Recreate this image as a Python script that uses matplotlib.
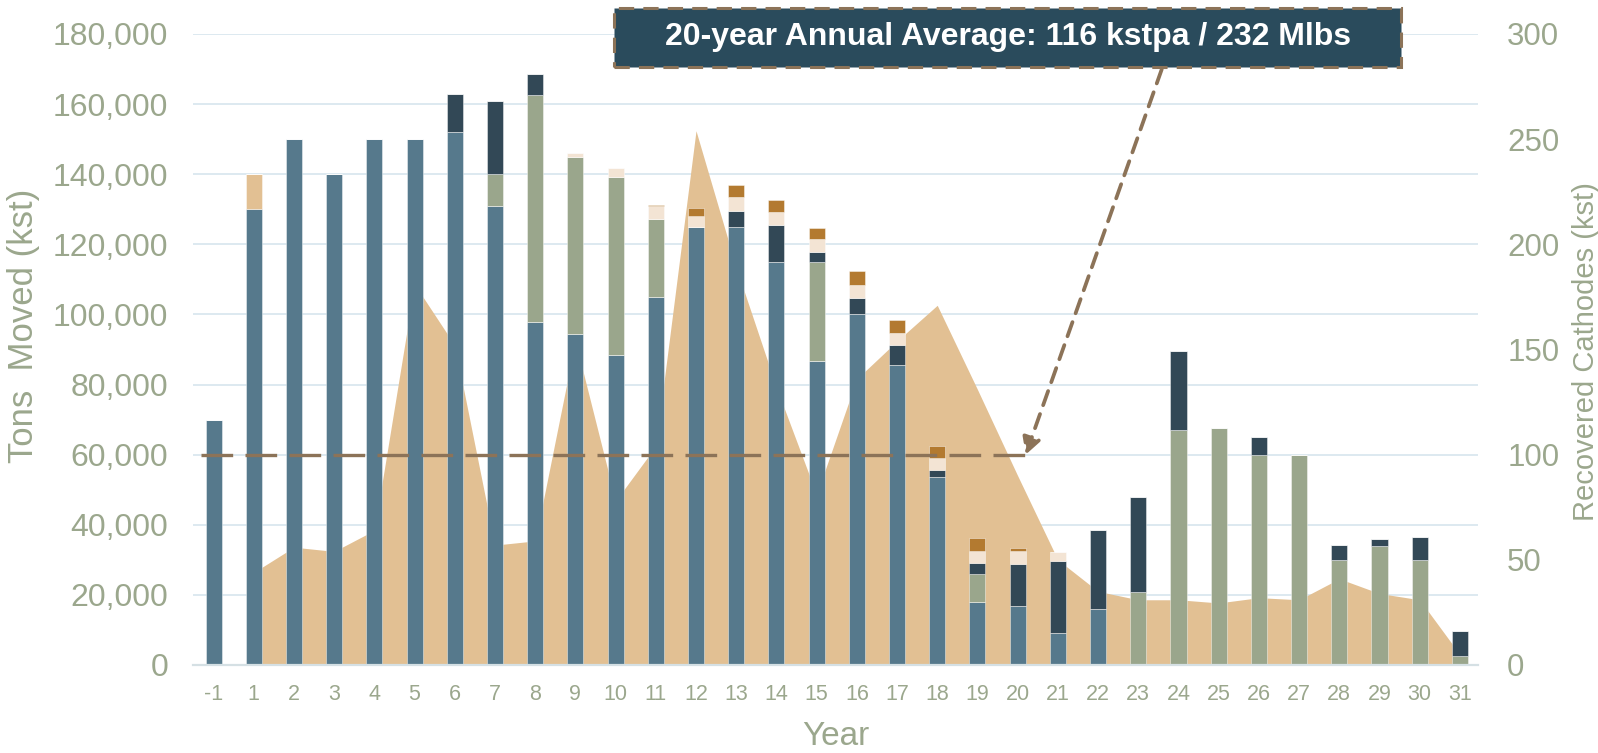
import matplotlib
matplotlib.use("Agg")
import matplotlib.pyplot as plt
import numpy as np
from matplotlib import font_manager
from matplotlib.patches import Rectangle
from matplotlib.ticker import FuncFormatter

plt.rcParams["font.family"] = ["Liberation Sans", "DejaVu Sans"]

# ---- data ----
years = ["-1"] + [str(i) for i in range(1, 32)]

blue_seg = [70000, 130000, 150000, 140000, 150000, 150000, 152000, 131000, 97700, 94400,
            88500, 105000, 125000, 125000, 115000, 86700, 100000, 85700, 53500, 18100,
            16800, 9100, 16000, 0, 0, 0, 0, 0, 0, 0, 0, 0]
tan_seg = [0, 10000] + [0] * 30
green_seg = [0, 0, 0, 0, 0, 0, 0, 9000, 65000, 50600,
             50600, 22300, 0, 0, 0, 28300, 0, 0, 0, 7900,
             0, 0, 0, 20700, 67000, 67500, 60000, 60000, 30000, 34000, 30000, 2600]
dark_seg = [0, 0, 0, 0, 0, 0, 10800, 21000, 5800, 0,
            0, 0, 0, 4500, 10400, 2700, 4800, 5500, 2000, 3000,
            12100, 20500, 22500, 27200, 22500, 0, 5000, 0, 4200, 1800, 6500, 7100]
peach_seg = [0, 0, 0, 0, 0, 0, 0, 0, 0, 1000,
             2800, 3600, 3200, 3900, 3900, 3900, 3700, 3400, 3500, 3500,
             3600, 2600, 0, 0, 0, 0, 0, 0, 0, 0, 0, 0]
orange_seg = [0, 0, 0, 0, 0, 0, 0, 0, 0, 0,
              0, 300, 2200, 3400, 3200, 3100, 3900, 3800, 3600, 3700,
              1000, 0, 0, 0, 0, 0, 0, 0, 0, 0, 0, 0]

# recovered cathodes (kst), right axis
cathodes = [np.nan, 44, 56, 54, 64, 181, 152, 57, 59, 154,
            78, 104, 254, 189, 132, 81, 136, 154, 171, 131,
            90, 50, 35, 31, 31, 29.5, 32, 31, 41, 34, 31, 5]

avg_value = 60000
avg_from, avg_to = "-1", "20"
note = "20-year Annual Average: 116 kstpa / 232 Mlbs"

# ---- style ----
c_blue = "#56798C"
c_tan = "#E2C093"
c_green = "#9AA68C"
c_dark = "#324856"
c_peach = "#F3E4D4"
c_orange = "#B37A30"
c_text = "#9BA78D"
c_grid = "#DDE9F0"
c_brown = "#8C7358"
c_box = "#2A4B5C"

# narrow bold face for the note, if it is there
try:
    font_manager.findfont("Liberation Sans Narrow", fallback_to_default=False)
    note_font, note_size = ["Liberation Sans Narrow", "Liberation Sans"], 27
except Exception:
    note_font, note_size = ["Liberation Sans", "DejaVu Sans"], 23

fig = plt.figure(figsize=(15.98, 7.53), dpi=100)
ax1 = fig.add_axes([0.1208, 0.1169, 0.8041, 0.8380])
ax2 = ax1.twinx()

x = np.arange(len(years))
ax2.set_ylim(0, 300)

# area behind bars, drawn with the right-axis scale
ax1.fill_between(x, 0, cathodes, transform=ax2.transData, color=c_tan, lw=0, zorder=1)

bottom = np.zeros(len(years))
for seg, col in [(blue_seg, c_blue), (tan_seg, c_tan), (green_seg, c_green),
                 (dark_seg, c_dark), (peach_seg, c_peach), (orange_seg, c_orange)]:
    seg = np.array(seg, dtype=float)
    ax1.bar(x, seg, 0.4, bottom=bottom, color=col, edgecolor=(1, 1, 1, 0.5),
            linewidth=0.6, zorder=2)
    bottom += seg

# average line
i0, i1 = years.index(avg_from), years.index(avg_to)
ax1.plot([i0 - 0.3, i1 + 0.2], [avg_value, avg_value], color=c_brown, lw=2.4,
         dashes=(9.5, 3.7), zorder=3, solid_capstyle="butt", dash_capstyle="butt")

ax1.set_xlim(-0.51, 31.45)
ax1.set_ylim(0, 180000)
ax1.set_yticks(np.arange(0, 180001, 20000))
ax1.yaxis.set_major_formatter(FuncFormatter(lambda v, p: f"{int(v):,}"))
ax1.set_xticks(x)
ax1.set_xticklabels(years)
ax1.grid(axis="y", color=c_grid, lw=1.4)
ax1.set_axisbelow(True)
for s in ["top", "left", "right"]:
    ax1.spines[s].set_visible(False)
ax1.spines["bottom"].set_color("#D5E0E4")
ax1.spines["bottom"].set_linewidth(1.6)
ax1.tick_params(axis="y", length=0, pad=18, labelsize=23, labelcolor=c_text)
ax1.tick_params(axis="x", length=0, pad=14, labelsize=15.5, labelcolor=c_text)

ax2.set_yticks(np.arange(0, 301, 50))
for s in ax2.spines.values():
    s.set_visible(False)
ax2.tick_params(axis="y", length=0, pad=21, labelsize=22.5, labelcolor=c_text)

fig.text(0.015, 0.567, "Tons  Moved (kst)", rotation=90, ha="center", va="center",
         fontsize=25, color=c_text)
fig.text(0.9925, 0.533, "Recovered Cathodes (kst)", rotation=90, ha="center", va="center",
         fontsize=21, color=c_text)
fig.text(0.523, 0.022, "Year", ha="center", va="center", fontsize=24, color=c_text)

# annotation box
fig.add_artist(Rectangle((0.3845, 0.911), 0.4922, 0.0784, transform=fig.transFigure,
                         facecolor=c_box, edgecolor=c_brown, lw=2.2,
                         linestyle=(0, (5, 3)), zorder=5))
fig.text(0.6307, 0.9502, note, color="white", fontsize=note_size, fontweight="bold",
         family=note_font, ha="center", va="center", zorder=6)

ax1.annotate("", xy=(i1 + 0.2, avg_value), xycoords="data",
             xytext=(0.727, 0.908), textcoords="figure fraction",
             arrowprops=dict(arrowstyle="-|>,head_length=1.0,head_width=0.55",
                             color=c_brown, lw=2.7, linestyle=(0, (4, 2.5)),
                             shrinkA=0, shrinkB=0),
             zorder=6)

fig.savefig("out.png", dpi=100)
